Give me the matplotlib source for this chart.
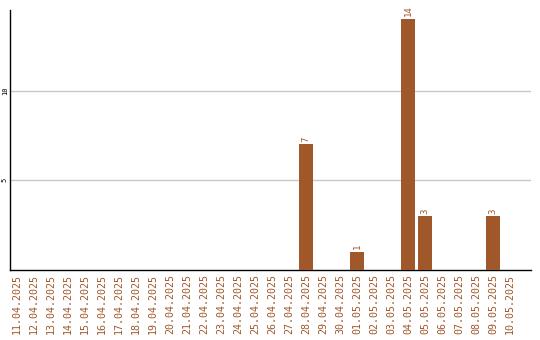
import matplotlib
matplotlib.use("Agg")
import matplotlib.pyplot as plt

# data
dates = ['11.04.2025', '12.04.2025', '13.04.2025', '14.04.2025', '15.04.2025',
         '16.04.2025', '17.04.2025', '18.04.2025', '19.04.2025', '20.04.2025',
         '21.04.2025', '22.04.2025', '23.04.2025', '24.04.2025', '25.04.2025',
         '26.04.2025', '27.04.2025', '28.04.2025', '29.04.2025', '30.04.2025',
         '01.05.2025', '02.05.2025', '03.05.2025', '04.05.2025', '05.05.2025',
         '06.05.2025', '07.05.2025', '08.05.2025', '09.05.2025', '10.05.2025']
counts = [0, 0, 0, 0, 0, 0, 0, 0, 0, 0,
          0, 0, 0, 0, 0, 0, 0, 7, 0, 0,
          1, 0, 0, 14, 3, 0, 0, 0, 3, 0]

brown = '#a0572a'

fig = plt.figure(figsize=(5.4, 3.4), dpi=100)
ax = fig.add_axes([10 / 540, 70 / 340, 521 / 540, 260 / 340])

x = list(range(len(dates)))
ax.bar(x, counts, width=0.82, color=brown, zorder=3)

# value labels over the bars
for xi, v in zip(x, counts):
    if v > 0:
        ax.text(xi, v + 0.15, str(v), rotation=90, ha='center', va='bottom',
                color=brown, fontsize=6.5, family='DejaVu Sans Mono')

ax.set_xlim(-0.41, 30.24)
ax.set_ylim(0, 14.5)
ax.set_xticks(x)
ax.set_xticklabels(dates, rotation=90, color=brown, fontsize=7.2,
                   family='DejaVu Sans Mono')
ax.set_yticks([5, 10])
ax.set_yticklabels(['5', '10'], rotation=90, va='center', fontsize=5,
                   family='DejaVu Sans Mono')
ax.tick_params(axis='x', length=0, pad=3)
ax.tick_params(axis='y', length=0, pad=1.5)
ax.grid(axis='y', color='#c8c8c8', linewidth=1, zorder=0)

ax.spines['top'].set_visible(False)
ax.spines['right'].set_visible(False)
ax.spines['left'].set_linewidth(1)
ax.spines['bottom'].set_linewidth(1)

fig.savefig('out.png', dpi=100)
